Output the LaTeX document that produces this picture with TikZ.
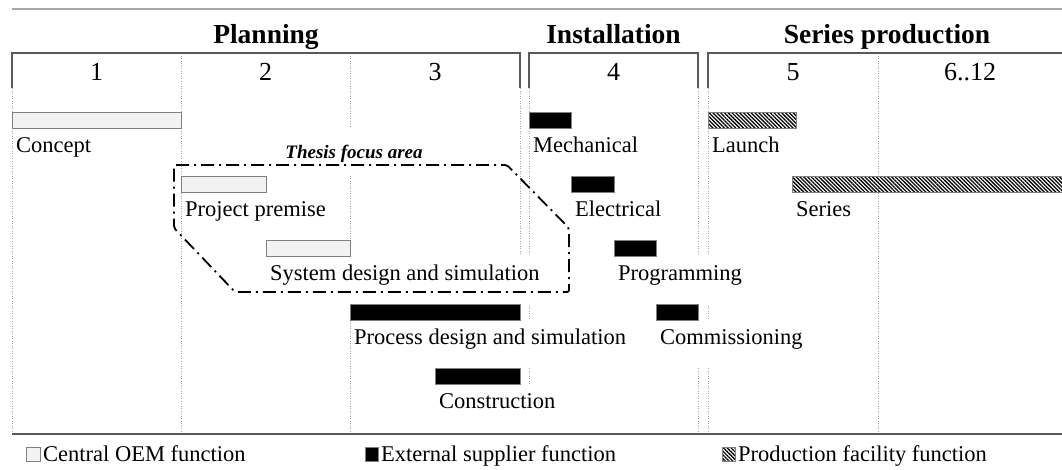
\documentclass[tikz,border=0pt]{standalone}
\usepackage{fontspec}
\setmainfont{Liberation Serif}
\usetikzlibrary{patterns.meta}
\definecolor{oemgrey}{RGB}{242,242,242}
\definecolor{edgegrey}{RGB}{128,128,128}
\definecolor{gridgrey}{RGB}{166,166,166}
\definecolor{framegrey}{RGB}{89,89,89}

\begin{document}
\begin{tikzpicture}[x=1pt,y=-1pt,
    gridline/.style={gridgrey,line width=0.8pt,dash pattern=on 1pt off 1.5pt},
    phaseframe/.style={framegrey,line width=1.3pt},
    oembar/.style={fill=oemgrey,draw=edgegrey,line width=1pt},
    supbar/.style={fill=black,draw=edgegrey,line width=1pt},
    facbar/.style={pattern={Lines[angle=-45,distance=2.7pt,line width=1.3pt]},
      draw=edgegrey,line width=1pt},
    task/.style={anchor=north west,xshift=1pt,fill=white,inner xsep=3pt,
      inner ysep=0pt,text height=24pt,text depth=23.5pt,
      font=\fontsize{22.5}{27}\selectfont},
    phase/.style={anchor=base,inner sep=0pt,
      font=\bfseries\fontsize{27.5}{33}\selectfont},
    colnum/.style={anchor=base,inner sep=0pt,font=\fontsize{26}{31}\selectfont},
    legend/.style={anchor=base west,inner sep=0pt,
      font=\fontsize{22.5}{27}\selectfont}]
  \useasboundingbox (0,0) rectangle (1062,469);
  % Top rule
  \draw[gridgrey,line width=1.5pt] (12,9) -- (1063,9);
  % Column grid (dotted)
  \draw[gridline] (12,88) -- (12,431) (181,53) -- (181,431)
    (350,53) -- (350,431) (520,88) -- (520,431) (529,88) -- (529,431)
    (698,88) -- (698,431) (708,88) -- (708,431) (878,53) -- (878,431);
  % Phase frames
  \draw[phaseframe] (12,88) |- (520,53) -- (520,88);
  \draw[phaseframe] (529,88) |- (698,53) -- (698,88);
  \draw[phaseframe] (708,88) |- (1063,53);
  % Phase titles
  \node[phase] (planning) at (266,43) {Planning};
  \node[phase] (installation) at (613.5,43) {Installation};
  \node[phase] (seriesprod) at (887,43) {Series production};
  % Month numbers
  \node[colnum] (m1) at (96.5,80) {1};
  \node[colnum] (m2) at (265.5,80) {2};
  \node[colnum] (m3) at (435,80) {3};
  \node[colnum] (m4) at (613.5,80) {4};
  \node[colnum] (m5) at (793,80) {5};
  \node[colnum] (m6) at (970,80) {6..12};
  % Task labels (white boxes mask the grid)
  \node[task] (concept) at (12,128) {Concept};
  \node[task] (mechanical) at (529,128) {Mechanical};
  \node[task] (launch) at (708,128) {Launch};
  \node[task] (premise) at (181,192) {Project premise};
  \node[task] (electrical) at (571,192) {Electrical};
  \node[task] (series) at (792,192) {Series};
  \node[task] (sysdesign) at (266,256) {System design and simulation};
  \node[task] (programming) at (614,256) {Programming};
  \node[task] (procdesign) at (350,320) {Process design and simulation};
  \node[task] (commissioning) at (656,320) {Commissioning};
  \node[task] (construction) at (435,384) {Construction};
  \node[anchor=base,fill=white,inner xsep=2pt,inner ysep=0pt,
    text height=30pt,text depth=18pt,
    font=\bfseries\itshape\fontsize{19}{23}\selectfont]
    (focus) at (354,158) {Thesis focus area};
  % Bars
  \draw[oembar] (12,112) rectangle (181,128);
  \draw[supbar] (529,112) rectangle (571,128);
  \draw[facbar] (708,112) rectangle (796,128);
  \draw[oembar] (181,176) rectangle (266,192);
  \draw[supbar] (571,176) rectangle (614,192);
  \draw[facbar] (792,176) rectangle (1064,192);
  \draw[oembar] (266,240) rectangle (350,256);
  \draw[supbar] (614,240) rectangle (656,256);
  \draw[supbar] (350,304) rectangle (520,320);
  \draw[supbar] (656,304) rectangle (698,320);
  \draw[supbar] (435,368) rectangle (520,384);
  % Focus area outline
  \draw[black,line width=1.8pt,dash pattern=on 13pt off 5pt on 2pt off 5pt,
    rounded corners=2pt]
    (174,165) -- (507,165) -- (569,228) -- (569,292)
    -- (235,292) -- (174,228) -- cycle;
  % Bottom rule
  \draw[framegrey,line width=1.3pt] (12,434) -- (1063,434);
  % Legend
  \draw[oembar] (26,447) rectangle (40,461);
  \node[legend] (legoem) at (43,461) {Central OEM function};
  \draw[supbar] (365,447) rectangle (378,461);
  \node[legend] (legsup) at (381,461) {External supplier function};
  \draw[facbar] (722,447) rectangle (735,461);
  \node[legend] (legfac) at (738,461) {Production facility function};
\end{tikzpicture}
\end{document}
